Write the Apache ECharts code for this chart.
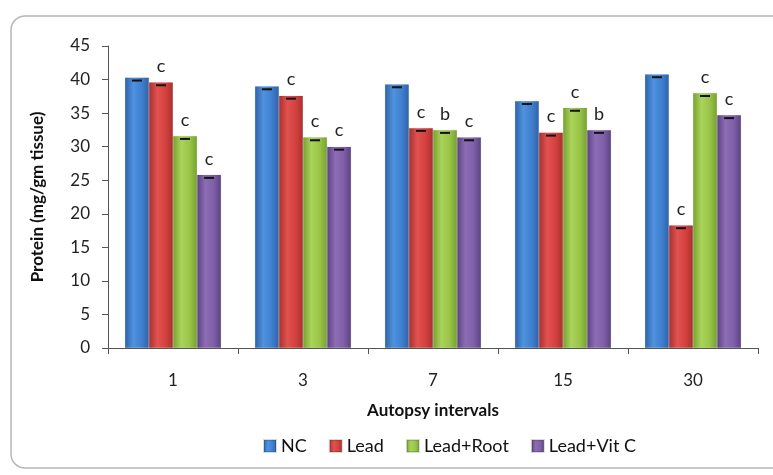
<!DOCTYPE html>
<html>
<head>
<meta charset="utf-8">
<script src="https://cdn.jsdelivr.net/npm/echarts@6/dist/echarts.min.js"></script>
<style>
html, body { margin: 0; padding: 0; background: #fff; }
#main { width: 773px; height: 475px; }
</style>
</head>
<body>
<div id="main"></div>
<script>
var intervals = ['1', '3', '7', '15', '30'];
var seriesNames = ['NC', 'Lead', 'Lead+Root', 'Lead+Vit C'];
var ncValues = [40.3, 39.0, 39.3, 36.8, 40.8];
var leadValues = [39.6, 37.6, 32.8, 32.1, 18.3];
var rootValues = [31.6, 31.4, 32.5, 35.8, 38.0];
var vitcValues = [25.8, 30.0, 31.4, 32.5, 34.7];
var ncLetters = ['', '', '', '', ''];
var leadLetters = ['c', 'c', 'c', 'c', 'c'];
var rootLetters = ['c', 'c', 'b', 'c', 'c'];
var vitcLetters = ['c', 'c', 'c', 'b', 'c'];

var dom = document.getElementById('main');
var myChart = echarts.init(dom);

var catGap = 0.26;

// bar shading: dark edges, light middle (old office 3d look)
function shade(dark, mid, light) {
    return new echarts.graphic.LinearGradient(0, 0, 1, 0, [
        { offset: 0, color: dark },
        { offset: 0.35, color: light },
        { offset: 0.7, color: mid },
        { offset: 1, color: dark }
    ]);
}
var fills = [
    shade('#2f62a8', '#3f7fcf', '#4f92de'),
    shade('#a8302e', '#d3413e', '#e05250'),
    shade('#77a12f', '#98c447', '#a9d35a'),
    shade('#5c4281', '#7e5fa8', '#8c6db5')
];
var legendColors = ['#3a70b8', '#c53a37', '#8bb143', '#7157a0'];

function makeSeries(i, values, letters) {
    return {
        name: seriesNames[i],
        type: 'bar',
        barGap: '0%',
        barCategoryGap: (catGap * 100) + '%',
        itemStyle: { color: fills[i], borderColor: 'rgba(0,0,0,0.15)', borderWidth: 0.5 },
        data: values.map(function (v, k) {
            return { value: v, label: { formatter: letters[k] } };
        }),
        label: {
            show: true,
            position: 'top',
            distance: 7,
            fontFamily: 'Lato',
            fontSize: 18,
            color: '#222'
        }
    };
}

// small black error caps on top of each bar
function makeCaps(i, values) {
    return {
        name: seriesNames[i],
        type: 'custom',
        silent: true,
        z: 5,
        data: values.map(function (v, k) { return [k, v]; }),
        renderItem: function (params, api) {
            var p = api.coord([api.value(0), api.value(1)]);
            var band = api.size([1, 0])[0];
            var barW = band * (1 - catGap) / 4;
            var cx = p[0] - band * (1 - catGap) / 2 + barW * (i + 0.5);
            return {
                type: 'rect',
                shape: { x: cx - 5, y: p[1] + 2, width: 10, height: 2 },
                style: { fill: '#111' }
            };
        }
    };
}

var option = {
    animation: false,
    color: legendColors,
    graphic: [{
        type: 'rect',
        shape: { x: 11, y: 16, width: 790, height: 452, r: 14 },
        style: { fill: 'none', stroke: '#b8b8b8', lineWidth: 1.5 },
        z: -1
    }],
    legend: {
        data: seriesNames,
        left: 258,
        top: 432,
        itemWidth: 12,
        itemHeight: 12,
        itemGap: 22,
        icon: 'rect',
        textStyle: { fontFamily: 'Lato', fontSize: 18, color: '#111' }
    },
    grid: { left: 108, right: 15, top: 46, bottom: 127 },
    xAxis: {
        type: 'category',
        data: intervals,
        name: 'Autopsy intervals',
        nameLocation: 'middle',
        nameGap: 54,
        nameTextStyle: { fontFamily: 'Lato', fontSize: 17, fontWeight: 'bold', color: '#111' },
        axisLine: { lineStyle: { color: '#555', width: 1 } },
        axisTick: { show: true, length: 6, lineStyle: { color: '#555' } },
        axisLabel: { fontFamily: 'Lato', fontSize: 17, color: '#222', margin: 24 }
    },
    yAxis: {
        type: 'value',
        min: 0,
        max: 45,
        interval: 5,
        name: 'Protein (mg/gm tissue)',
        nameLocation: 'middle',
        nameGap: 62,
        nameTextStyle: { fontFamily: 'Lato', fontSize: 17, fontWeight: 'bold', color: '#111' },
        axisLine: { show: true, lineStyle: { color: '#555', width: 1 } },
        axisTick: { show: true, length: 6, lineStyle: { color: '#555' } },
        splitLine: { show: false },
        axisLabel: { fontFamily: 'Lato', fontSize: 17, color: '#222', margin: 18 }
    },
    series: [
        makeSeries(0, ncValues, ncLetters),
        makeSeries(1, leadValues, leadLetters),
        makeSeries(2, rootValues, rootLetters),
        makeSeries(3, vitcValues, vitcLetters),
        makeCaps(0, ncValues),
        makeCaps(1, leadValues),
        makeCaps(2, rootValues),
        makeCaps(3, vitcValues)
    ]
};
myChart.setOption(option, true);
</script>
</body>
</html>
